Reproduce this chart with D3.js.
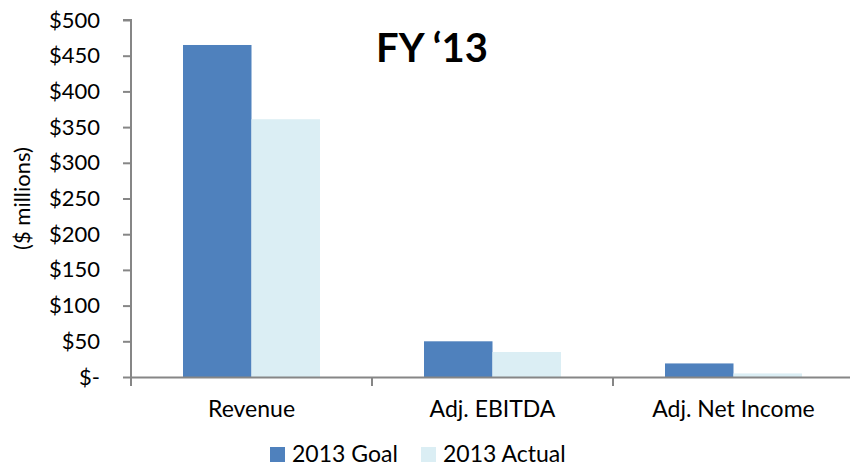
<!DOCTYPE html>
<html>
<head>
<meta charset="utf-8">
<script src="https://cdn.jsdelivr.net/npm/d3@7"></script>
<style>
  body { margin: 0; background: #fff; }
  svg text { font-family: Lato, "Open Sans", sans-serif; fill: #000; }
</style>
</head>
<body>
<div class="canvas"></div>
<script>
// data
var categories = ["Revenue", "Adj. EBITDA", "Adj. Net Income"];
var seriesNames = ["2013 Goal", "2013 Actual"];
var goal = [465, 50, 19];
var actual = [361, 35, 5];
var yTicks = [0, 50, 100, 150, 200, 250, 300, 350, 400, 450, 500];
var colors = ["#4F81BD", "#DBEEF4"];

var W = 850, H = 466;
var margin = {t: 20, l: 131, b: 89, r: -4},
    width = W - margin.l - margin.r,
    height = H - margin.t - margin.b;

var svg = d3.select('.canvas')
    .append('svg')
    .attr('width', W)
    .attr('height', H);

var g = svg.append('g')
    .attr('transform', 'translate(' + margin.l + ',' + margin.t + ')');

var x = d3.scaleBand().domain(categories).range([0, width]).paddingInner(0).paddingOuter(0);
var xs = d3.scaleBand().domain(seriesNames).range([52, x.bandwidth() - 52]);
var y = d3.scaleLinear().domain([0, 500]).range([height, 0]);

var rows = categories.map(function(c, i) {
    return {cat: c, vals: [goal[i], actual[i]]};
});

// bars
var grp = g.selectAll('.grp')
    .data(rows)
    .enter().append('g')
    .attr('transform', function(d) { return 'translate(' + x(d.cat) + ',0)'; });

grp.selectAll('rect')
    .data(function(d) { return d.vals.map(function(v, j) { return {s: seriesNames[j], v: v, j: j}; }); })
    .enter().append('rect')
    .attr('x', function(d) { return xs(d.s); })
    .attr('y', function(d) { return y(d.v); })
    .attr('width', xs.bandwidth())
    .attr('height', function(d) { return height - y(d.v); })
    .attr('fill', function(d) { return colors[d.j]; });

// y axis
var yAxis = g.append('g')
    .call(d3.axisLeft(y).tickValues(yTicks).tickSize(8).tickPadding(23)
        .tickFormat(function(d) { return d === 0 ? '$-' : '$' + d; }));
yAxis.select('.domain').attr('stroke', '#868686').attr('stroke-width', 2).attr('d', 'M-8,0H0V' + height);
yAxis.selectAll('.tick line').attr('stroke', '#868686').attr('stroke-width', 2);
yAxis.selectAll('.tick text').attr('font-size', 22).attr('font-family', 'Lato, sans-serif');

// x axis
var xAxis = g.append('g')
    .attr('transform', 'translate(0,' + height + ')')
    .call(d3.axisBottom(x).tickSize(0).tickPadding(24));
xAxis.select('.domain').attr('stroke', '#868686').attr('stroke-width', 2);
xAxis.selectAll('.tick text').attr('font-size', 23).attr('font-family', 'Lato, sans-serif');
xAxis.selectAll('.sep')
    .data(categories)
    .enter().append('line')
    .attr('x1', function(d) { return x(d); })
    .attr('x2', function(d) { return x(d); })
    .attr('y1', 0).attr('y2', 9)
    .attr('stroke', '#868686').attr('stroke-width', 2);

// y title
svg.append('text')
    .attr('transform', 'translate(30,' + (margin.t + y(250)) + ') rotate(-90)')
    .attr('text-anchor', 'middle')
    .attr('font-size', 22)
    .text('($ millions)');

// chart title
svg.append('text')
    .attr('x', 376)
    .attr('y', 62)
    .attr('font-size', 40)
    .attr('font-weight', 'bold')
    .text('FY \u201813');

// legend
var legendX = [270, 421];
var lg = svg.selectAll('.lg')
    .data(seriesNames)
    .enter().append('g')
    .attr('transform', function(d, i) { return 'translate(' + legendX[i] + ',447)'; });
lg.append('rect').attr('width', 15).attr('height', 15)
    .attr('fill', function(d, i) { return colors[i]; });
lg.append('text').attr('x', 22).attr('y', 15)
    .attr('font-size', 23)
    .text(function(d) { return d; });
</script>
</body>
</html>
